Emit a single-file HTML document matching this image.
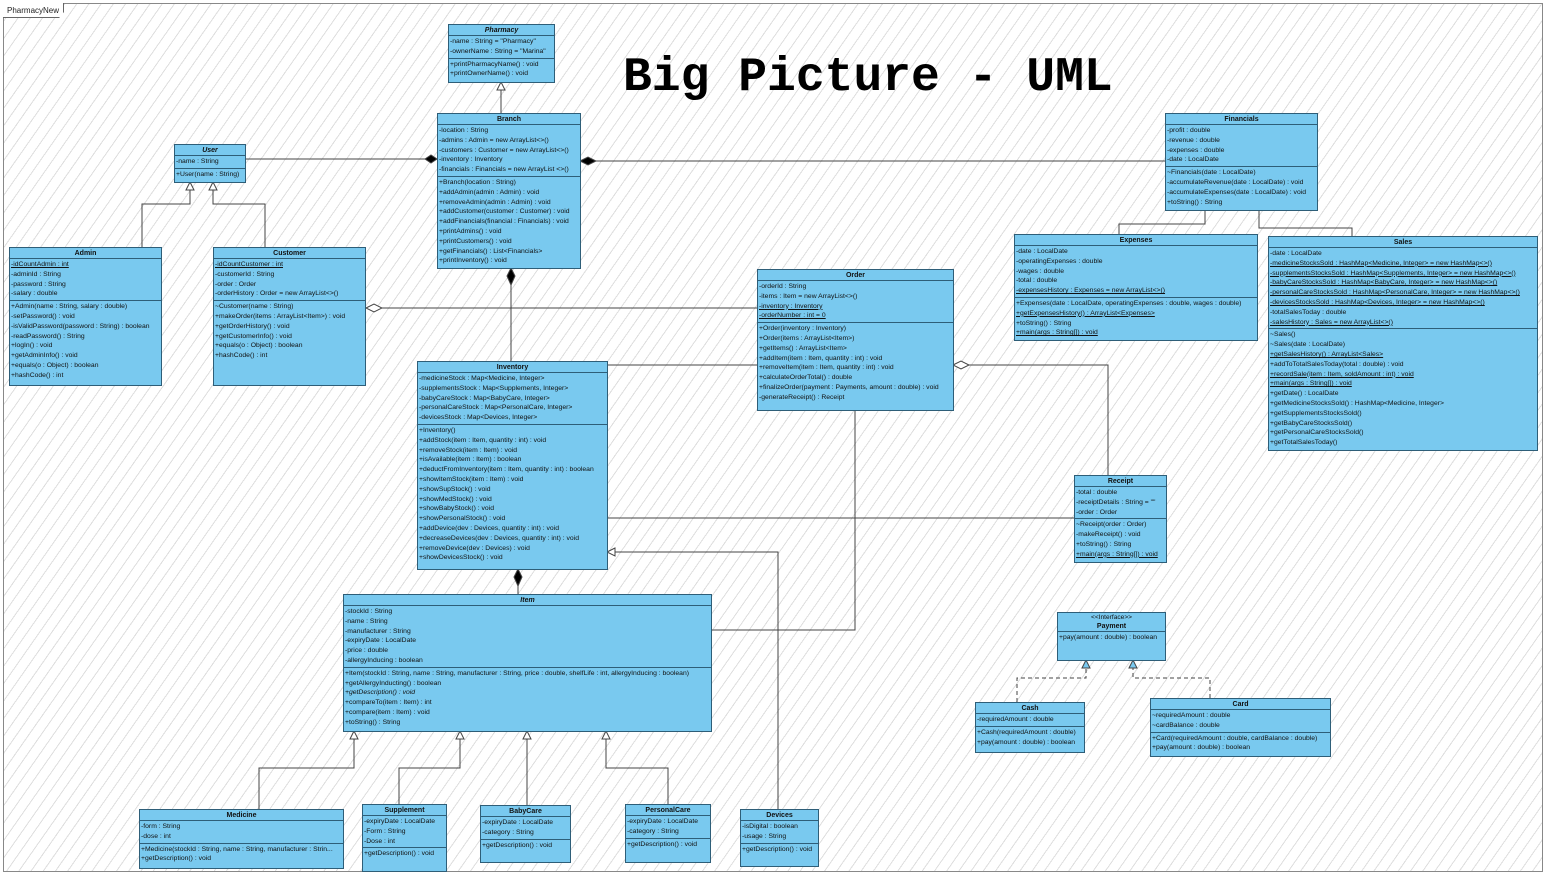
<!DOCTYPE html>
<html><head><meta charset="utf-8"><style>
*{box-sizing:border-box;margin:0;padding:0}
body{width:1546px;height:875px;position:relative;overflow:hidden;background:#fff;font-family:"Liberation Sans",sans-serif}
#bg{position:absolute;left:3px;top:3px;width:1540px;height:869px;border:1px solid #888;
background:repeating-linear-gradient(125deg,transparent 0 9px,#dedede 9px 10px)}
#tab{position:absolute;left:3px;top:3px;height:15px;padding:0 4px;border:1px solid #666;border-top:none;border-left:none;background:#fff;font-size:8px;line-height:15px;color:#222;clip-path:polygon(0 0,100% 0,100% 60%,92% 100%,0 100%)}
.c{position:absolute;background:#79c9ef;border:1px solid #2e5e78;font-size:6.8px;line-height:9.8px;color:#111;overflow:hidden;white-space:nowrap}
.c .h{text-align:center;font-weight:bold;height:11px;line-height:11px;border-bottom:1px solid #2e5e78;font-size:7px}
.c .a{border-bottom:1px solid #2e5e78;padding:1px 1px 1px 1px}
.c .o{padding:1px 1px}
.i{font-style:italic}
.u{text-decoration:underline}
svg{position:absolute;left:0;top:0}
#title{position:absolute;left:623px;top:51px;font-family:"Liberation Mono",monospace;font-weight:bold;font-size:48px;color:#000}
</style></head><body>
<div id="bg"></div>
<div id="tab">PharmacyNew</div>
<div id="title">Big Picture - UML</div>
<svg width="1546" height="875" fill="none" stroke="#444" stroke-width="1">
<path d="M501 113V90"/><path d="M497 90L501 82L505 90Z" fill="#fff"/>
<path d="M245 159H425"/><path d="M425 159L431 155L437 159L431 163Z" fill="#000"/>
<path d="M596 161H1165"/><path d="M580 161L588 157L596 161L588 165Z" fill="#000"/>
<path d="M142 247V204H190V190"/><path d="M186 190L190 182L194 190Z" fill="#fff"/>
<path d="M265 247V204H213V190"/><path d="M209 190L213 182L217 190Z" fill="#fff"/>
<path d="M511 285V361"/><path d="M511 268L515 276L511 285L507 276Z" fill="#000"/>
<path d="M382 308H757"/><path d="M366 308L374 304L382 308L374 312Z" fill="#fff"/>
<path d="M607 365H757"/>
<path d="M607 518H1074"/>
<path d="M969 365H1108V475"/><path d="M953 365L961 361L969 365L961 369Z" fill="#fff"/>
<path d="M615 552H778V809"/><path d="M615 548L607 552L615 556Z" fill="#fff"/>
<path d="M855 410V630H711"/>
<path d="M518 586V594"/><path d="M518 569L522 577L518 586L514 577Z" fill="#000"/>
<path d="M259 809V768H354V739"/><path d="M350 739L354 731L358 739Z" fill="#fff"/>
<path d="M399 804V768H460V739"/><path d="M456 739L460 731L464 739Z" fill="#fff"/>
<path d="M527 805V739"/><path d="M523 739L527 731L531 739Z" fill="#fff"/>
<path d="M668 804V768H606V739"/><path d="M602 739L606 731L610 739Z" fill="#fff"/>
<path d="M1119 234V224H1205V210"/><path d="M1352 236V228H1259V210"/>
<path d="M1017 702V678H1086V668M1210 698V678H1133V668" stroke-dasharray="4 3"/>
<path d="M1082 668L1086 660L1090 668Z" fill="#79c9ef"/><path d="M1129 668L1133 660L1137 668Z" fill="#79c9ef"/>
</svg>

<div class="c" style="left:448px;top:24px;width:107px;height:59px"><div class="h i">Pharmacy</div><div class="a">-name : String = "Pharmacy"<br>-ownerName : String = "Marina"</div><div class="o">+printPharmacyName() : void<br>+printOwnerName() : void</div></div>

<div class="c" style="left:437px;top:113px;width:144px;height:156px"><div class="h">Branch</div><div class="a">-location : String<br>-admins : Admin = new ArrayList&lt;&gt;()<br>-customers : Customer = new ArrayList&lt;&gt;()<br>-inventory : Inventory<br>-financials : Financials = new ArrayList &lt;&gt;()</div><div class="o">+Branch(location : String)<br>+addAdmin(admin : Admin) : void<br>+removeAdmin(admin : Admin) : void<br>+addCustomer(customer : Customer) : void<br>+addFinancials(financial : Financials) : void<br>+printAdmins() : void<br>+printCustomers() : void<br>+getFinancials() : List&lt;Financials&gt;<br>+printInventory() : void</div></div>

<div class="c" style="left:174px;top:144px;width:72px;height:39px"><div class="h i">User</div><div class="a">-name : String</div><div class="o">+User(name : String)</div></div>

<div class="c" style="left:9px;top:247px;width:153px;height:139px"><div class="h">Admin</div><div class="a"><span class="u">-idCountAdmin : int</span><br>-adminId : String<br>-password : String<br>-salary : double</div><div class="o">+Admin(name : String, salary : double)<br>-setPassword() : void<br>-isValidPassword(password : String) : boolean<br>-readPassword() : String<br>+logIn() : void<br>+getAdminInfo() : void<br>+equals(o : Object) : boolean<br>+hashCode() : int</div></div>

<div class="c" style="left:213px;top:247px;width:153px;height:139px"><div class="h">Customer</div><div class="a"><span class="u">-idCountCustomer : int</span><br>-customerId : String<br>-order : Order<br>-orderHistory : Order = new ArrayList&lt;&gt;()</div><div class="o">~Customer(name : String)<br>+makeOrder(items : ArrayList&lt;Item&gt;) : void<br>+getOrderHistory() : void<br>+getCustomerInfo() : void<br>+equals(o : Object) : boolean<br>+hashCode() : int</div></div>

<div class="c" style="left:1165px;top:113px;width:153px;height:98px"><div class="h">Financials</div><div class="a">-profit : double<br>-revenue : double<br>-expenses : double<br>-date : LocalDate</div><div class="o">~Financials(date : LocalDate)<br>-accumulateRevenue(date : LocalDate) : void<br>-accumulateExpenses(date : LocalDate) : void<br>+toString() : String</div></div>

<div class="c" style="left:1014px;top:234px;width:244px;height:107px"><div class="h">Expenses</div><div class="a">-date : LocalDate<br>-operatingExpenses : double<br>-wages : double<br>-total : double<br><span class="u">-expensesHistory : Expenses = new ArrayList&lt;&gt;()</span></div><div class="o">+Expenses(date : LocalDate, operatingExpenses : double, wages : double)<br><span class="u">+getExpensesHistory() : ArrayList&lt;Expenses&gt;</span><br>+toString() : String<br><span class="u">+main(args : String[]) : void</span></div></div>

<div class="c" style="left:1268px;top:236px;width:270px;height:215px"><div class="h">Sales</div><div class="a">-date : LocalDate<br><span class="u">-medicineStocksSold : HashMap&lt;Medicine, Integer&gt; = new HashMap&lt;&gt;()</span><br><span class="u">-supplementsStocksSold : HashMap&lt;Supplements, Integer&gt; = new HashMap&lt;&gt;()</span><br><span class="u">-babyCareStocksSold : HashMap&lt;BabyCare, Integer&gt; = new HashMap&lt;&gt;()</span><br><span class="u">-personalCareStocksSold : HashMap&lt;PersonalCare, Integer&gt; = new HashMap&lt;&gt;()</span><br><span class="u">-devicesStocksSold : HashMap&lt;Devices, Integer&gt; = new HashMap&lt;&gt;()</span><br>-totalSalesToday : double<br><span class="u">-salesHistory : Sales = new ArrayList&lt;&gt;()</span></div><div class="o">~Sales()<br>~Sales(date : LocalDate)<br><span class="u">+getSalesHistory() : ArrayList&lt;Sales&gt;</span><br>+addToTotalSalesToday(total : double) : void<br><span class="u">+recordSale(item : Item, soldAmount : int) : void</span><br><span class="u">+main(args : String[]) : void</span><br>+getDate() : LocalDate<br>+getMedicineStocksSold() : HashMap&lt;Medicine, Integer&gt;<br>+getSupplementsStocksSold()<br>+getBabyCareStocksSold()<br>+getPersonalCareStocksSold()<br>+getTotalSalesToday()</div></div>

<div class="c" style="left:757px;top:269px;width:197px;height:142px"><div class="h">Order</div><div class="a">-orderId : String<br>-items : Item = new ArrayList&lt;&gt;()<br><span class="u">-inventory : Inventory</span><br><span class="u">-orderNumber : int = 0</span></div><div class="o">+Order(inventory : Inventory)<br>+Order(items : ArrayList&lt;Item&gt;)<br>+getItems() : ArrayList&lt;Item&gt;<br>+addItem(item : Item, quantity : int) : void<br>+removeItem(item : Item, quantity : int) : void<br>+calculateOrderTotal() : double<br>+finalizeOrder(payment : Payments, amount : double) : void<br>-generateReceipt() : Receipt</div></div>

<div class="c" style="left:417px;top:361px;width:191px;height:209px"><div class="h">Inventory</div><div class="a">-medicineStock : Map&lt;Medicine, Integer&gt;<br>-supplementsStock : Map&lt;Supplements, Integer&gt;<br>-babyCareStock : Map&lt;BabyCare, Integer&gt;<br>-personalCareStock : Map&lt;PersonalCare, Integer&gt;<br>-devicesStock : Map&lt;Devices, Integer&gt;</div><div class="o">+Inventory()<br>+addStock(item : Item, quantity : int) : void<br>+removeStock(item : Item) : void<br>+isAvailable(item : Item) : boolean<br>+deductFromInventory(item : Item, quantity : int) : boolean<br>+showItemStock(item : Item) : void<br>+showSupStock() : void<br>+showMedStock() : void<br>+showBabyStock() : void<br>+showPersonalStock() : void<br>+addDevice(dev : Devices, quantity : int) : void<br>+decreaseDevices(dev : Devices, quantity : int) : void<br>+removeDevice(dev : Devices) : void<br>+showDevicesStock() : void</div></div>

<div class="c" style="left:1074px;top:475px;width:93px;height:88px"><div class="h">Receipt</div><div class="a">-total : double<br>-receiptDetails : String = ""<br>-order : Order</div><div class="o">~Receipt(order : Order)<br>-makeReceipt() : void<br>+toString() : String<br><span class="u">+main(args : String[]) : void</span></div></div>

<div class="c" style="left:1057px;top:612px;width:109px;height:49px"><div style="text-align:center;line-height:9px;font-size:6.6px">&lt;&lt;Interface&gt;&gt;</div><div style="text-align:center;font-weight:bold;line-height:9px;border-bottom:1px solid #2e5e78;font-size:7px">Payment</div><div class="o">+pay(amount : double) : boolean</div></div>

<div class="c" style="left:975px;top:702px;width:110px;height:51px"><div class="h">Cash</div><div class="a">-requiredAmount : double</div><div class="o">+Cash(requiredAmount : double)<br>+pay(amount : double) : boolean</div></div>

<div class="c" style="left:1150px;top:698px;width:181px;height:59px"><div class="h">Card</div><div class="a">~requiredAmount : double<br>~cardBalance : double</div><div class="o">+Card(requiredAmount : double, cardBalance : double)<br>+pay(amount : double) : boolean</div></div>

<div class="c" style="left:343px;top:594px;width:369px;height:138px"><div class="h i">Item</div><div class="a">-stockId : String<br>-name : String<br>-manufacturer : String<br>-expiryDate : LocalDate<br>-price : double<br>-allergyInducing : boolean</div><div class="o">+Item(stockId : String, name : String, manufacturer : String, price : double, shelfLife : int, allergyInducing : boolean)<br>+getAllergyInducting() : boolean<br><span class="i">+getDescription() : void</span><br>+compareTo(item : Item) : int<br>+compare(item : Item) : void<br>+toString() : String</div></div>

<div class="c" style="left:139px;top:809px;width:205px;height:60px"><div class="h">Medicine</div><div class="a">-form : String<br>-dose : int</div><div class="o">+Medicine(stockId : String, name : String, manufacturer : Strin...<br>+getDescription() : void</div></div>

<div class="c" style="left:362px;top:804px;width:85px;height:68px"><div class="h">Supplement</div><div class="a">-expiryDate : LocalDate<br>-Form : String<br>-Dose : int</div><div class="o">+getDescription() : void</div></div>

<div class="c" style="left:480px;top:805px;width:91px;height:58px"><div class="h">BabyCare</div><div class="a">-expiryDate : LocalDate<br>-category : String</div><div class="o">+getDescription() : void</div></div>

<div class="c" style="left:625px;top:804px;width:86px;height:59px"><div class="h">PersonalCare</div><div class="a">-expiryDate : LocalDate<br>-category : String</div><div class="o">+getDescription() : void</div></div>

<div class="c" style="left:740px;top:809px;width:79px;height:58px"><div class="h">Devices</div><div class="a">-isDigital : boolean<br>-usage : String</div><div class="o">+getDescription() : void</div></div>
</body></html>
